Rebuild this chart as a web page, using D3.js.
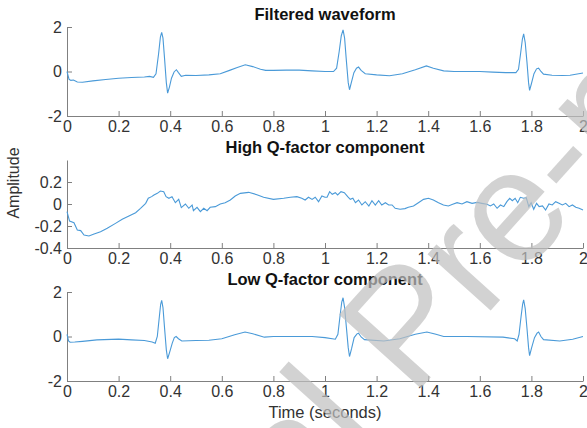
<!DOCTYPE html>
<html>
<head>
<meta charset="utf-8">
<script src="https://cdn.jsdelivr.net/npm/d3@7"></script>
<style>
  body { margin: 0; background: #fff; }
  text { font-family: "Liberation Sans", Arial, sans-serif; }
</style>
</head>
<body>
<script>
// size of the page
var widthScr = 587;
var heightScr = 428;

// time axis shared by all panels
var xTicks = [0, 0.2, 0.4, 0.6, 0.8, 1, 1.2, 1.4, 1.6, 1.8, 2];
var xTickLabels = ["0", "0.2", "0.4", "0.6", "0.8", "1", "1.2", "1.4", "1.6", "1.8", "2"];

// panel titles and y ticks
var titles = ["Filtered waveform", "High Q-factor component", "Low Q-factor component"];
var yDomains = [[-2, 2], [-0.4, 0.4], [-2, 2]];
var yTicks = [[-2, 0, 2], [-0.4, -0.2, 0, 0.2], [-2, 0, 2]];
var yTickLabels = [["-2", "0", "2"], ["-0.4", "-0.2", "0", "0.2"], ["-2", "0", "2"]];

// filtered waveform
var tFiltered = [0, 0.008, 0.015, 0.025, 0.04, 0.06, 0.1, 0.15, 0.2, 0.25, 0.3, 0.32, 0.335, 0.345, 0.355, 0.362, 0.367, 0.372, 0.378, 0.385, 0.39, 0.397, 0.405, 0.415, 0.424, 0.432, 0.443, 0.46, 0.5, 0.55, 0.594, 0.63, 0.66, 0.691, 0.72, 0.75, 0.77, 0.8, 0.85, 0.9, 0.95, 1, 1.033, 1.045, 1.055, 1.063, 1.07, 1.076, 1.082, 1.09, 1.095, 1.102, 1.112, 1.122, 1.13, 1.14, 1.156, 1.2, 1.25, 1.3, 1.35, 1.393, 1.42, 1.46, 1.5, 1.55, 1.6, 1.65, 1.7, 1.74, 1.75, 1.758, 1.765, 1.77, 1.776, 1.783, 1.789, 1.793, 1.8, 1.81, 1.82, 1.828, 1.837, 1.847, 1.88, 1.92, 1.95, 2];
var filtered = [0, -0.35, -0.4, -0.38, -0.47, -0.48, -0.42, -0.36, -0.3, -0.27, -0.25, -0.22, -0.26, -0.1, 0.8, 1.55, 1.76, 1.5, 0.6, -0.5, -0.97, -0.7, -0.3, -0.02, 0.08, -0.05, -0.22, -0.17, -0.18, -0.15, -0.1, 0.05, 0.18, 0.3, 0.22, 0.1, 0.05, 0.05, 0.06, 0.06, 0.03, 0, 0, 0.15, 0.9, 1.6, 1.87, 1.5, 0.6, -0.5, -0.82, -0.5, -0.05, 0.15, 0.2, 0.05, -0.1, -0.15, -0.19, -0.1, 0.08, 0.25, 0.15, 0.03, 0, 0, 0, -0.03, -0.05, -0.05, 0.1, 0.8, 1.45, 1.69, 1.3, 0.4, -0.5, -0.85, -0.55, -0.1, 0.12, 0.15, 0, -0.12, -0.17, -0.18, -0.17, -0.07];

// high Q-factor component
var tHigh = [0, 0.01, 0.027, 0.04, 0.053, 0.066, 0.085, 0.105, 0.13, 0.156, 0.188, 0.214, 0.24, 0.266, 0.285, 0.305, 0.315, 0.328, 0.337, 0.35, 0.362, 0.375, 0.384, 0.395, 0.407, 0.42, 0.433, 0.443, 0.459, 0.472, 0.485, 0.49, 0.504, 0.517, 0.53, 0.543, 0.555, 0.575, 0.594, 0.613, 0.633, 0.652, 0.672, 0.704, 0.736, 0.762, 0.8, 0.84, 0.866, 0.891, 0.91, 0.923, 0.936, 0.95, 0.962, 0.975, 0.988, 1, 1.008, 1.018, 1.028, 1.04, 1.049, 1.062, 1.075, 1.088, 1.098, 1.108, 1.118, 1.13, 1.143, 1.156, 1.17, 1.182, 1.195, 1.208, 1.22, 1.234, 1.247, 1.26, 1.272, 1.291, 1.31, 1.323, 1.343, 1.362, 1.382, 1.401, 1.42, 1.44, 1.459, 1.478, 1.495, 1.512, 1.531, 1.55, 1.57, 1.59, 1.608, 1.628, 1.641, 1.654, 1.667, 1.68, 1.693, 1.705, 1.716, 1.726, 1.737, 1.747, 1.757, 1.77, 1.78, 1.79, 1.799, 1.809, 1.82, 1.83, 1.843, 1.855, 1.868, 1.881, 1.894, 1.907, 1.92, 1.933, 1.946, 1.959, 1.972, 1.985, 2];
var highQ = [-0.07, -0.155, -0.17, -0.236, -0.242, -0.282, -0.291, -0.273, -0.252, -0.221, -0.176, -0.139, -0.109, -0.079, -0.039, 0.006, 0.052, 0.067, 0.082, 0.097, 0.118, 0.112, 0.067, 0.052, 0.067, 0.012, 0.042, -0.033, 0, -0.039, -0.009, -0.061, -0.03, -0.07, -0.039, -0.061, -0.03, -0.024, 0, 0.012, 0.036, 0.073, 0.097, 0.106, 0.085, 0.061, 0.042, 0.052, 0.061, 0.067, 0.052, 0.036, 0.061, 0.042, 0.061, 0.021, 0.073, 0.061, 0.061, 0.112, 0.088, 0.103, 0.082, 0.112, 0.103, 0.067, 0.042, 0.052, 0.012, 0.036, -0.009, 0.021, -0.018, 0.03, -0.009, 0.03, -0.009, 0.012, -0.009, -0.009, -0.039, -0.048, -0.042, -0.03, -0.018, 0.012, 0.042, 0.052, 0.036, 0.012, -0.009, -0.018, -0.003, 0.012, 0, 0.021, 0.006, 0.015, 0.006, -0.003, -0.018, 0, -0.039, -0.009, -0.024, 0.021, 0.052, 0.03, 0.052, 0.012, 0.061, 0.052, 0.058, -0.024, 0.012, -0.048, 0.006, -0.024, -0.018, -0.055, 0, -0.009, 0.021, 0.006, -0.009, 0.006, -0.024, -0.009, -0.03, -0.039, -0.055];

// low Q-factor component
var tLow = [0, 0.006, 0.012, 0.03, 0.06, 0.116, 0.2, 0.25, 0.3, 0.33, 0.342, 0.35, 0.358, 0.363, 0.367, 0.372, 0.378, 0.385, 0.39, 0.398, 0.408, 0.416, 0.423, 0.432, 0.445, 0.5, 0.55, 0.6, 0.65, 0.69, 0.72, 0.765, 0.8, 0.866, 0.95, 1, 1.04, 1.05, 1.058, 1.065, 1.07, 1.076, 1.083, 1.09, 1.095, 1.103, 1.113, 1.124, 1.13, 1.14, 1.153, 1.228, 1.29, 1.35, 1.395, 1.43, 1.46, 1.55, 1.69, 1.735, 1.745, 1.752, 1.76, 1.766, 1.77, 1.776, 1.783, 1.789, 1.793, 1.801, 1.812, 1.822, 1.828, 1.837, 1.847, 1.91, 1.96, 2];
var lowQ = [0.1, -0.2, -0.26, -0.25, -0.22, -0.15, -0.12, -0.15, -0.18, -0.25, -0.3, 0, 0.9, 1.45, 1.62, 1.3, 0.4, -0.6, -1, -0.7, -0.3, -0.05, 0, -0.1, -0.2, -0.18, -0.17, -0.1, 0.08, 0.2, 0.12, -0.03, 0, 0, 0, -0.05, -0.12, 0.1, 0.9, 1.55, 1.74, 1.3, 0.4, -0.5, -0.9, -0.55, -0.05, 0.12, 0.15, -0.02, -0.14, -0.2, -0.1, 0.1, 0.2, 0.1, 0, 0, -0.03, -0.1, -0.2, 0.1, 0.9, 1.45, 1.65, 1.25, 0.35, -0.5, -0.86, -0.5, -0.05, 0.15, 0.2, 0, -0.14, -0.2, -0.12, 0];

var seriesT = [tFiltered, tHigh, tLow];
var seriesV = [filtered, highQ, lowQ];

// plot area of each panel
var left = 67, right = 583;
var panelTop = [27, 160, 292];
var panelBottom = [116, 248, 381];

var svg = d3.select("body").append("svg")
    .attr("width", widthScr)
    .attr("height", heightScr);

var x = d3.scaleLinear().domain([0, 2]).range([left, right]);

for (let i = 0; i < 3; i++) {
    let y = d3.scaleLinear().domain(yDomains[i]).range([panelBottom[i], panelTop[i]]);
    let g = svg.append("g");

    //x axis, ticks pointing inward
    let xa = g.append("g")
        .attr("transform", "translate(0," + panelBottom[i] + ")")
        .call(d3.axisBottom(x)
            .tickValues(xTicks)
            .tickFormat((d, k) => xTickLabels[k])
            .tickSizeInner(-5).tickSizeOuter(0).tickPadding(5));

    //y axis
    let ya = g.append("g")
        .attr("transform", "translate(" + left + ",0)")
        .call(d3.axisLeft(y)
            .tickValues(yTicks[i])
            .tickFormat((d, k) => yTickLabels[i][k])
            .tickSizeInner(-5).tickSizeOuter(0).tickPadding(5));

    [xa, ya].forEach(function(a) {
        a.select(".domain").attr("stroke", "#808080");
        a.selectAll(".tick line").attr("stroke", "#808080");
        a.selectAll(".tick text")
            .attr("fill", "#333")
            .style("font-size", "16px");
    });

    //the signal
    let pts = seriesT[i].map((t, k) => [t, seriesV[i][k]]);
    g.append("path")
        .datum(pts)
        .attr("fill", "none")
        .attr("stroke", "#4a9ad8")
        .attr("stroke-width", 1.1)
        .attr("d", d3.line().x(d => x(d[0])).y(d => y(d[1])));

    //title
    g.append("text")
        .attr("x", (left + right) / 2)
        .attr("y", panelTop[i] - 7)
        .attr("text-anchor", "middle")
        .attr("font-weight", "bold")
        .attr("fill", "#111")
        .style("font-size", "16.5px")
        .text(titles[i]);
}

// axis labels
svg.append("text")
    .attr("transform", "translate(19,183) rotate(-90)")
    .attr("text-anchor", "middle")
    .attr("fill", "#333")
    .style("font-size", "16px")
    .text("Amplitude");

svg.append("text")
    .attr("x", (left + right) / 2)
    .attr("y", 418)
    .attr("text-anchor", "middle")
    .attr("fill", "#333")
    .style("font-size", "16.5px")
    .text("Time (seconds)");

// watermark over the figure
svg.append("text")
    .attr("transform", "translate(31,821) rotate(-48)")
    .attr("fill", "#c0c0c0")
    .attr("opacity", 0.7)
    .style("font-size", "160px")
    .text("Journal Pre-proof");
</script>
</body>
</html>
